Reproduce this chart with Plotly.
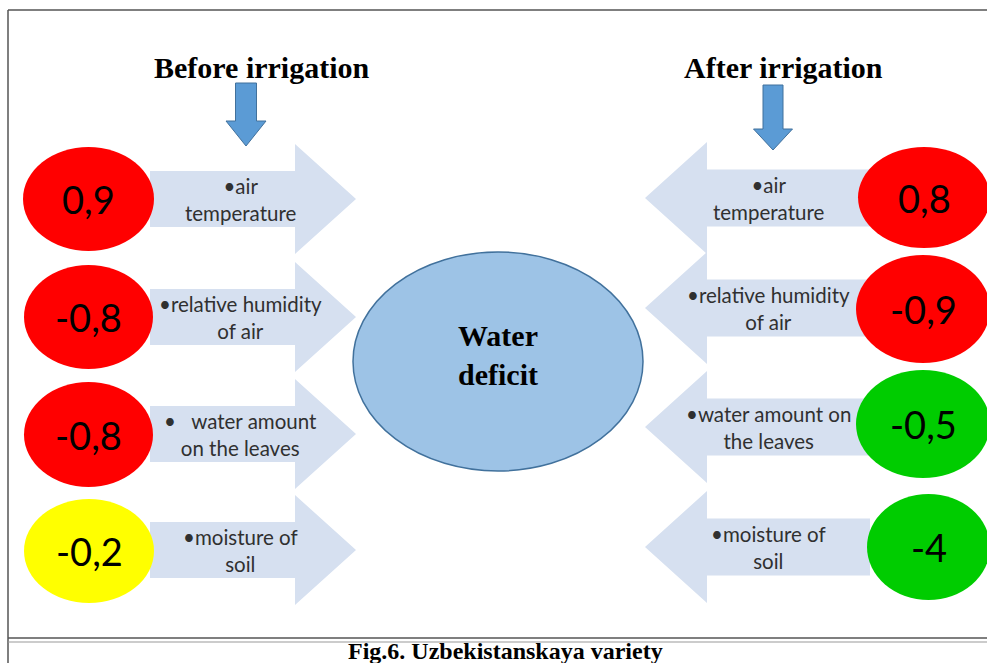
import plotly.graph_objects as go

# ---- data ----
factors_before = ["•air<br>temperature", "•relative humidity<br>of air",
                  "•   water amount<br>on the leaves", "•moisture of<br>soil"]
factors_after = ["•air<br>temperature", "•relative humidity<br>of air",
                 "•water amount on<br>the leaves", "•moisture of<br>soil"]
values_before = ["0,9", "-0,8", "-0,8", "-0,2"]
values_after = ["0,8", "-0,9", "-0,5", "-4"]
colors_before = ["#FF0000", "#FF0000", "#FF0000", "#FFFF00"]
colors_after = ["#FF0000", "#FF0000", "#00CC00", "#00CC00"]
center_label = "Water<br>deficit"
header_before = "Before irrigation"
header_after = "After irrigation"
caption = "Fig.6. Uzbekistanskaya variety"

# ---- layout geometry (pixels) ----
W, H = 987, 663
rows_left = [199, 317, 434, 550]
rows_right = [198, 308, 427, 547]
ell_left = [(23, 154, 147, 251), (24, 153, 265, 369), (24, 153, 382, 487), (24, 154, 499, 603)]
ell_right = [(858, 990, 147, 248), (856, 990, 255, 363), (856, 990, 370, 478), (867, 990, 494, 600)]

ARROW_FILL = "#D6E0F0"
shapes = []
annotations = []

def right_arrow(xl, xb, xt, yc, bh, hh):
    return (f"M {xl},{yc-bh/2} L {xb},{yc-bh/2} L {xb},{yc-hh/2} L {xt},{yc} "
            f"L {xb},{yc+hh/2} L {xb},{yc+bh/2} L {xl},{yc+bh/2} Z")

def left_arrow(xr, xb, xt, yc, bh, hh):
    return (f"M {xr},{yc-bh/2} L {xb},{yc-bh/2} L {xb},{yc-hh/2} L {xt},{yc} "
            f"L {xb},{yc+hh/2} L {xb},{yc+bh/2} L {xr},{yc+bh/2} Z")

def down_arrow(xc, y0, yb, yt, sw, hw):
    return (f"M {xc-sw/2},{y0} L {xc+sw/2},{y0} L {xc+sw/2},{yb} L {xc+hw/2},{yb} "
            f"L {xc},{yt} L {xc-hw/2},{yb} L {xc-sw/2},{yb} Z")

# frame
shapes.append(dict(type="line", x0=8, x1=W, y0=10, y1=10, line=dict(color="#555555", width=1.5)))
shapes.append(dict(type="line", x0=8, x1=8, y0=10, y1=H, line=dict(color="#555555", width=1.5)))
shapes.append(dict(type="line", x0=8, x1=W, y0=638, y1=638, line=dict(color="#555555", width=1.5)))
shapes.append(dict(type="line", x0=8, x1=W, y0=642, y1=642, line=dict(color="#999999", width=1)))

# central ellipse
shapes.append(dict(type="circle", x0=353, x1=643, y0=252, y1=471,
                   fillcolor="#9DC3E6", line=dict(color="#41719C", width=1.5)))

# left side
for i, yc in enumerate(rows_left):
    shapes.append(dict(type="path", path=right_arrow(150, 295, 356, yc, 56, 110),
                       fillcolor=ARROW_FILL, line=dict(width=0)))
    x0, x1, y0, y1 = ell_left[i]
    shapes.append(dict(type="circle", x0=x0, x1=x1, y0=y0, y1=y1,
                       fillcolor=colors_before[i], line=dict(width=0)))
    annotations.append(dict(x=(x0 + x1) / 2, y=(y0 + y1) / 2, text=values_before[i],
                            showarrow=False, font=dict(family="Lato", size=38, color="#000000")))
    annotations.append(dict(x=240, y=yc, text=factors_before[i], showarrow=False,
                            font=dict(family="Lato", size=20.5, color="#303030")))

# right side
for i, yc in enumerate(rows_right):
    shapes.append(dict(type="path", path=left_arrow(870, 707, 645, yc, 57, 112),
                       fillcolor=ARROW_FILL, line=dict(width=0)))
    x0, x1, y0, y1 = ell_right[i]
    shapes.append(dict(type="circle", x0=x0, x1=x1, y0=y0, y1=y1,
                       fillcolor=colors_after[i], line=dict(width=0)))
    annotations.append(dict(x=(x0 + 987) / 2 + 2, y=(y0 + y1) / 2, text=values_after[i],
                            showarrow=False, font=dict(family="Lato", size=38, color="#000000")))
    annotations.append(dict(x=768, y=yc, text=factors_after[i], showarrow=False,
                            font=dict(family="Lato", size=20.5, color="#303030")))

# down arrows
shapes.append(dict(type="path", path=down_arrow(246, 83, 121, 146, 21, 40),
                   fillcolor="#5B9BD5", line=dict(color="#41719C", width=1)))
shapes.append(dict(type="path", path=down_arrow(773, 85, 129, 150, 20, 39),
                   fillcolor="#5B9BD5", line=dict(color="#41719C", width=1)))

# headers and labels
annotations.append(dict(x=262, y=67, text=f"<b>{header_before}</b>", showarrow=False,
                        font=dict(family="Liberation Serif", size=30, color="#000000")))
annotations.append(dict(x=783, y=67, text=f"<b>{header_after}</b>", showarrow=False,
                        font=dict(family="Liberation Serif", size=30, color="#000000")))
annotations.append(dict(x=498, y=355, text=f"<b>{center_label}</b>", showarrow=False,
                        font=dict(family="Liberation Serif", size=30, color="#000000")))
annotations.append(dict(x=505, y=651, text=f"<b>{caption}</b>", showarrow=False,
                        font=dict(family="Liberation Serif", size=24, color="#000000")))

fig = go.Figure()
fig.update_layout(
    width=W, height=H,
    margin=dict(l=0, r=0, t=0, b=0),
    paper_bgcolor="white", plot_bgcolor="white",
    xaxis=dict(range=[0, W], visible=False, fixedrange=True),
    yaxis=dict(range=[H, 0], visible=False, fixedrange=True),
    shapes=shapes, annotations=annotations, showlegend=False,
)
fig.write_html("out.html", config={"displayModeBar": False},
               post_script="document.body.style.margin='0';document.body.style.overflow='hidden';")
